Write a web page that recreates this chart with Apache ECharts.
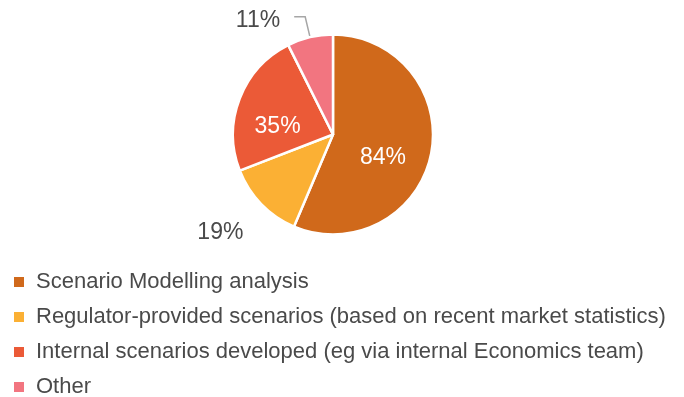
<!DOCTYPE html>
<html>
<head>
<meta charset="utf-8">
<script src="https://cdn.jsdelivr.net/npm/echarts@6/dist/echarts.min.js"></script>
<style>
  html, body { margin: 0; padding: 0; background: #ffffff; }
  #chart { width: 684px; height: 397px; }
</style>
</head>
<body>
<div id="chart"></div>
<script>
// Scenario sources (share of respondents, multiple answers allowed)
const categories = [
  'Scenario Modelling analysis',
  'Regulator-provided scenarios (based on recent market statistics)',
  'Internal scenarios developed (eg via internal Economics team)',
  'Other'
];
const values = [84, 19, 35, 11];
const colors = ['#d0691b', '#fbb034', '#eb5a37', '#f27580'];

const FONT = '"Liberation Sans", Arial, Helvetica, sans-serif';

// Per-slice label styling: two labels sit inside, two outside
const labelStyles = [
  { position: 'inside', color: '#ffffff', offset: [-2, 13] },
  { position: 'outside', color: '#4a4a4a', offset: [10, 13], line: false },
  { position: 'inside', color: '#ffffff', offset: [-6, 11] },
  { position: 'outside', color: '#4a4a4a', offset: [-2, 4], line: true }
];

const chart = echarts.init(document.getElementById('chart'), null, { renderer: 'canvas' });

chart.setOption({
  animation: false,
  color: colors,
  legend: {
    orient: 'vertical',
    left: 12,
    top: 270,
    height: 160,
    padding: 0,
    icon: 'rect',
    itemWidth: 12,
    itemHeight: 12,
    itemGap: 11,
    selectedMode: false,
    data: categories,
    textStyle: {
      fontFamily: FONT,
      fontSize: 22,
      lineHeight: 24,
      color: '#4a4a4a',
      padding: [0, 0, 0, 6]
    }
  },
  series: [{
    type: 'pie',
    center: [333, 134.5],
    radius: 100,
    startAngle: 90,
    clockwise: true,
    avoidLabelOverlap: false,
    itemStyle: { borderColor: '#ffffff', borderWidth: 2.5 },
    label: {
      fontFamily: FONT,
      fontSize: 23,
      formatter: '{c}%',
      distanceToLabelLine: 12
    },
    labelLine: {
      length: 21,
      length2: 11,
      lineStyle: { color: '#a6a6a6', width: 1.5 }
    },
    emphasis: { disabled: true },
    data: categories.map((name, i) => {
      const s = labelStyles[i];
      const item = {
        name: name,
        value: values[i],
        label: { position: s.position, color: s.color, offset: s.offset }
      };
      if (s.position === 'outside') {
        item.labelLine = { show: s.line };
        if (!s.line) {
          item.labelLine.length = 22;
          item.labelLine.length2 = 0;
        }
      }
      return item;
    })
  }]
});
</script>
</body>
</html>
